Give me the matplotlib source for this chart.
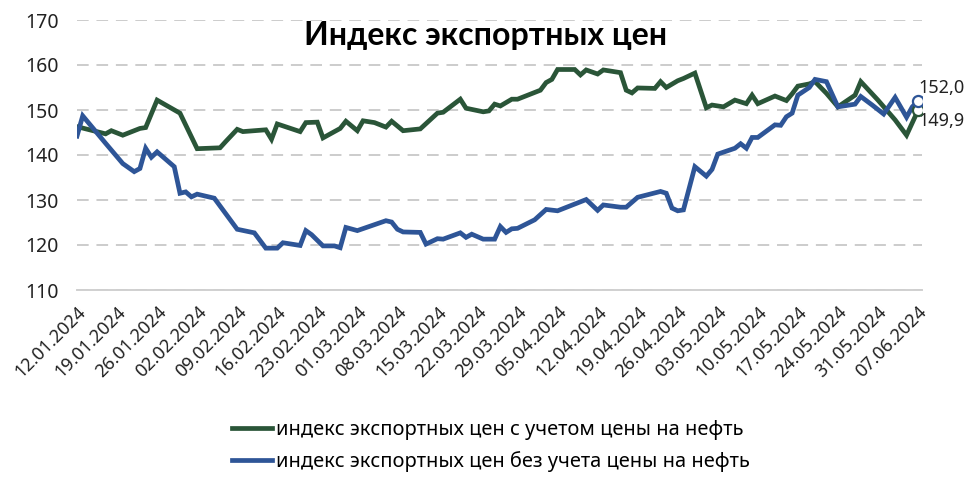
import numpy as np
import pandas as pd
import matplotlib
matplotlib.use("Agg")
from matplotlib import pyplot as plt

plt.rcParams['font.family'] = ['Noto Sans', 'DejaVu Sans']

TITLE = "Индекс экспортных цен"
LABEL_OIL = "индекс экспортных цен с учетом цены на нефть"
LABEL_NO_OIL = "индекс экспортных цен без учета цены на нефть"

# с учетом цены на нефть
dates_oil = [
    "12.01.2024", "17.01.2024", "18.01.2024", "20.01.2024", "23.01.2024", "24.01.2024",
    "26.01.2024", "30.01.2024", "02.02.2024", "06.02.2024", "07.02.2024", "09.02.2024",
    "10.02.2024", "14.02.2024", "15.02.2024", "16.02.2024", "20.02.2024", "21.02.2024",
    "23.02.2024", "24.02.2024", "26.02.2024", "27.02.2024", "28.02.2024", "01.03.2024",
    "02.03.2024", "04.03.2024", "06.03.2024", "07.03.2024", "09.03.2024", "12.03.2024",
    "15.03.2024", "16.03.2024", "19.03.2024", "20.03.2024", "23.03.2024", "24.03.2024",
    "25.03.2024", "26.03.2024", "28.03.2024", "29.03.2024", "02.04.2024", "03.04.2024",
    "04.04.2024", "05.04.2024", "08.04.2024", "09.04.2024", "10.04.2024", "12.04.2024",
    "13.04.2024", "16.04.2024", "17.04.2024", "18.04.2024", "19.04.2024", "22.04.2024",
    "23.04.2024", "24.04.2024", "26.04.2024", "27.04.2024", "29.04.2024", "01.05.2024",
    "02.05.2024", "04.05.2024", "06.05.2024", "08.05.2024", "09.05.2024", "10.05.2024",
    "13.05.2024", "15.05.2024", "16.05.2024", "17.05.2024", "19.05.2024", "20.05.2024",
    "22.05.2024", "24.05.2024", "27.05.2024", "28.05.2024", "31.05.2024", "03.06.2024",
    "05.06.2024", "07.06.2024",
]
values_oil = [
    146.3, 144.7, 145.4, 144.4, 145.9, 146.1,
    152.2, 149.3, 141.4, 141.6, 143.0, 145.7,
    145.2, 145.6, 143.5, 146.9, 145.2, 147.2,
    147.3, 143.8, 145.2, 145.9, 147.5, 145.4,
    147.6, 147.2, 146.2, 147.5, 145.4, 145.8,
    149.3, 149.5, 152.4, 150.4, 149.6, 149.8,
    151.3, 150.9, 152.4, 152.4, 154.4, 156.1,
    156.8, 159.0, 159.0, 157.8, 158.9, 158.0,
    158.9, 158.3, 154.4, 153.8, 154.9, 154.8,
    156.3, 155.0, 156.5, 157.0, 158.2, 150.5,
    151.1, 150.7, 152.2, 151.4, 153.3, 151.4,
    153.1, 152.1, 153.6, 155.3, 155.8, 156.3,
    153.7, 150.7, 153.3, 156.3, 152.2, 147.8,
    144.4, 149.9,
]

# без учета цены на нефть
dates_no_oil = [
    "12.01.2024", "13.01.2024", "17.01.2024", "20.01.2024", "22.01.2024", "23.01.2024",
    "24.01.2024", "25.01.2024", "26.01.2024", "29.01.2024", "30.01.2024", "31.01.2024",
    "01.02.2024", "02.02.2024", "05.02.2024", "09.02.2024", "12.02.2024", "14.02.2024",
    "16.02.2024", "17.02.2024", "20.02.2024", "21.02.2024", "22.02.2024", "24.02.2024",
    "26.02.2024", "27.02.2024", "28.02.2024", "01.03.2024", "06.03.2024", "07.03.2024",
    "08.03.2024", "09.03.2024", "12.03.2024", "13.03.2024", "15.03.2024", "16.03.2024",
    "19.03.2024", "20.03.2024", "21.03.2024", "23.03.2024", "25.03.2024", "26.03.2024",
    "27.03.2024", "28.03.2024", "29.03.2024", "01.04.2024", "03.04.2024", "05.04.2024",
    "10.04.2024", "12.04.2024", "13.04.2024", "16.04.2024", "17.04.2024", "19.04.2024",
    "23.04.2024", "24.04.2024", "25.04.2024", "26.04.2024", "27.04.2024", "29.04.2024",
    "01.05.2024", "02.05.2024", "03.05.2024", "06.05.2024", "07.05.2024", "08.05.2024",
    "09.05.2024", "10.05.2024", "13.05.2024", "14.05.2024", "15.05.2024", "16.05.2024",
    "17.05.2024", "19.05.2024", "20.05.2024", "22.05.2024", "24.05.2024", "27.05.2024",
    "28.05.2024", "30.05.2024", "01.06.2024", "03.06.2024", "05.06.2024", "06.06.2024",
    "07.06.2024",
]
values_no_oil = [
    144.2, 148.7, 142.6, 138.1, 136.3, 137.0,
    141.5, 139.5, 140.7, 137.4, 131.5, 131.8,
    130.7, 131.3, 130.4, 123.5, 122.7, 119.3,
    119.3, 120.5, 119.9, 123.2, 122.3, 119.8,
    119.8, 119.4, 123.9, 123.2, 125.4, 125.1,
    123.5, 122.9, 122.8, 120.2, 121.4, 121.3,
    122.7, 121.7, 122.4, 121.3, 121.3, 124.1,
    122.8, 123.6, 123.7, 125.6, 127.9, 127.6,
    130.1, 127.7, 128.9, 128.4, 128.4, 130.6,
    131.9, 131.5, 128.2, 127.6, 127.8, 137.4,
    135.3, 136.8, 140.2, 141.5, 142.5, 141.5,
    143.9, 143.9, 146.7, 146.6, 148.5, 149.3,
    153.3, 155.0, 156.8, 156.3, 150.7, 151.3,
    153.0, 151.1, 149.1, 152.8, 148.4, 150.7,
    152.0,
]

tick_dates = pd.date_range("2024-01-12", "2024-06-07", freq="7D")
y_ticks = [110, 120, 130, 140, 150, 160, 170]

GREEN = "#2a5538"
BLUE = "#2e5597"

x_oil = pd.to_datetime(dates_oil, format="%d.%m.%Y")
x_no_oil = pd.to_datetime(dates_no_oil, format="%d.%m.%Y")

fig = plt.figure(figsize=(9.74, 4.87), dpi=100)
ax = fig.add_axes([77 / 974, 1 - 290 / 487, 845 / 974, 270 / 487])

ax.plot(x_oil, values_oil, color=GREEN, lw=3.4, solid_joinstyle="miter", label=LABEL_OIL, zorder=3)
ax.plot(x_no_oil, values_no_oil, color=BLUE, lw=3.4, solid_joinstyle="miter", label=LABEL_NO_OIL, zorder=4)

# маркеры и подписи последних значений
ax.plot(x_oil[-1], values_oil[-1], "o", ms=8, mfc="white", mec=GREEN, mew=1.6, zorder=5)
ax.plot(x_no_oil[-1], values_no_oil[-1], "o", ms=8, mfc="white", mec=BLUE, mew=1.6, zorder=6)
ax.annotate(f"{values_no_oil[-1]:.1f}".replace(".", ","), (x_no_oil[-1], values_no_oil[-1]),
            xytext=(0, 3), textcoords="offset points", ha="left", va="bottom",
            fontsize=13, color="#222222")
ax.annotate(f"{values_oil[-1]:.1f}".replace(".", ","), (x_oil[-1], values_oil[-1]),
            xytext=(0, -1), textcoords="offset points", ha="left", va="top",
            fontsize=13, color="#222222")

ax.set_ylim(110, 170)
ax.set_yticks(y_ticks)
ax.set_xlim(x_oil[0], x_oil[-1] + pd.Timedelta(days=0.7))
ax.set_xticks(tick_dates)
ax.set_xticklabels([d.strftime("%d.%m.%Y") for d in tick_dates], rotation=45,
                   ha="right", va="top", rotation_mode="anchor")

ax.grid(axis="y", color="#cccccc", lw=1.4, ls=(0, (6, 4)))
ax.set_axisbelow(True)
for s in ["top", "right", "left"]:
    ax.spines[s].set_visible(False)
ax.spines["bottom"].set_color("#d0d0d0")
ax.spines["bottom"].set_linewidth(1.4)
ax.tick_params(axis="both", length=0, colors="#222222")
ax.tick_params(axis="x", pad=9, labelsize=13)
ax.tick_params(axis="y", pad=13, labelsize=14)

fig.text(0.499, 0.927, TITLE, ha="center", va="center", fontsize=23,
         fontweight="bold", family=["Lato", "DejaVu Sans"], color="black")

fig.legend(loc="upper left", bbox_to_anchor=(232 / 974, 1 - 420 / 487), frameon=False,
           fontsize=14.4, handlelength=2.0, handletextpad=0.2, labelspacing=0.55,
           borderaxespad=0, borderpad=0)

fig.savefig("out.png", dpi=100)
